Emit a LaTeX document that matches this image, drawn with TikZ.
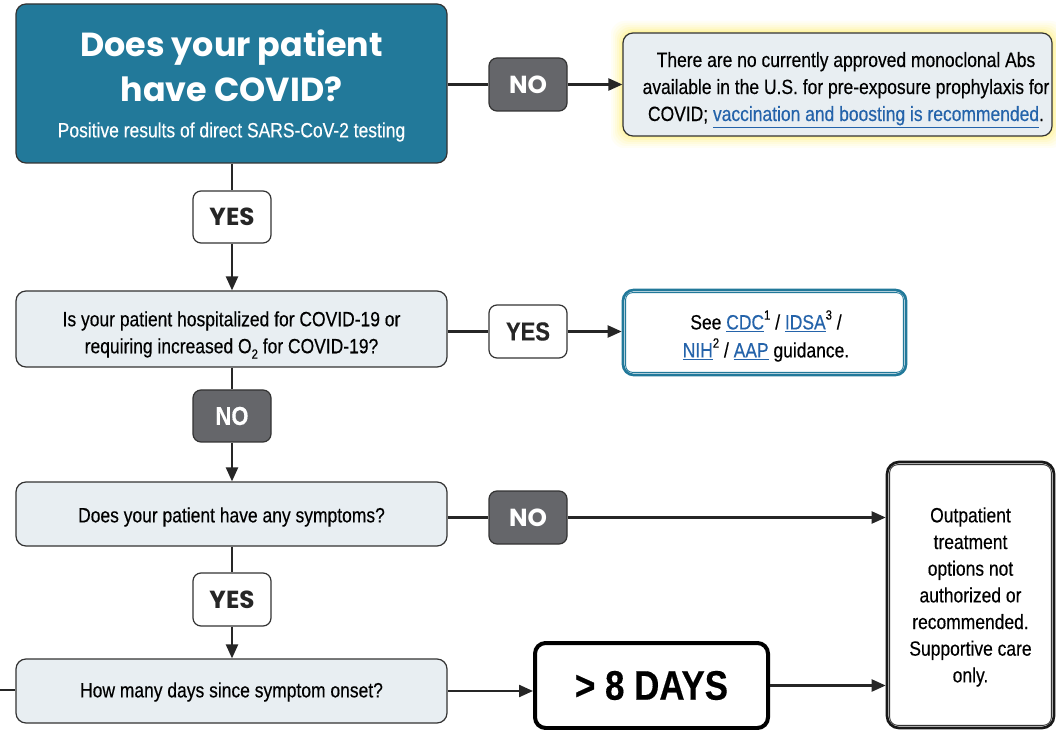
\documentclass[tikz,border=0pt]{standalone}
\usepackage{fontspec}
\setmainfont[FakeStretch=0.845, FakeBold=0.35]{Liberation Sans}
\newfontfamily\popp{Poppins}
\usetikzlibrary{arrows.meta,calc}
\definecolor{tealA}{HTML}{22799A}
\definecolor{greyA}{HTML}{65666A}
\definecolor{lightA}{HTML}{E8EEF2}
\definecolor{edgeA}{HTML}{333333}
\definecolor{linkB}{HTML}{2463AA}
\definecolor{glowY}{HTML}{FFF04A}
\newcommand\lnk[1]{\textcolor{linkB}{\underline{#1}}}
\newcommand\sups[1]{\raisebox{0.9ex}{\fontsize{10}{10}\selectfont #1}}
\tikzset{
  sz/.style 2 args={minimum width=#1*0.75pt, minimum height=#2*0.75pt, inner sep=0pt},
  qbox/.style={draw=edgeA, line width=0.9pt, fill=lightA, rounded corners=7.5pt},
  qtext/.style={align=center, inner sep=0pt, text=black, font=\fontsize{15.5}{20.25}\selectfont},
  yesbox/.style={draw=edgeA, line width=0.9pt, fill=white, rounded corners=6pt, align=center,
     font=\popp\bfseries\fontsize{18.5}{20}\selectfont, text=black!85},
  nobox/.style={draw=edgeA, line width=0.9pt, fill=greyA, rounded corners=6pt, align=center,
     font=\popp\bfseries\fontsize{18.5}{20}\selectfont, text=white},
  yesc/.style={yesbox, font=\bfseries\fontsize{19.5}{22}\selectfont},
  noc/.style={nobox, font=\bfseries\fontsize{19.5}{22}\selectfont},
  conn/.style={line width=1.7pt, draw=black!85},
  arr/.style={conn, -{Triangle[length=10.5pt,width=9pt]}},
}
\begin{document}
\begin{tikzpicture}[x=0.75pt,y=-0.75pt]
\useasboundingbox (0,0) rectangle (1056,730);
\fill[white] (0,0) rectangle (1056,730);

% top question
\node[qbox, fill=tealA, sz={431}{159}] (q1) at (231.5,83.5) {};
\node[text=white, align=center, inner sep=0pt, font=\popp\bfseries\fontsize{25}{34}\selectfont] (q1t) at (231.5,66) {Does your patient\\have COVID?};
\node[qtext, text=white] (q1s) at (231.5,132) {Positive results of direct SARS-CoV-2 testing};

% glow for answer box 1
\foreach \r/\o in {12/0.05,10/0.06,8/0.08,6/0.1,4/0.14,2/0.22}{
  \fill[glowY, opacity=\o, rounded corners=10pt] (623-\r,33-\r) rectangle (1052+\r,136+\r);
}
\node[qbox, sz={429}{103}] (a1) at (837.5,84.5) {};
\node[qtext] (a1t) at (846,90) {There are no currently approved monoclonal Abs\\available in the U.S. for pre-exposure prophylaxis for\\COVID; \lnk{vaccination and boosting is recommended}.};

\node[nobox, sz={78}{53}] (no1) at (528,84.5) {NO};
\node[yesbox, sz={78}{52}] (yes1) at (232,217) {YES};

% question 2
\node[qbox, sz={431}{76}] (q2) at (231.5,329) {};
\node[qtext] (q2t) at (231.5,335) {Is your patient hospitalized for COVID-19 or\\requiring increased O\raisebox{-0.5ex}{\fontsize{10}{10}\selectfont 2} for COVID-19?};
\node[yesc, sz={78}{53}] (yes2) at (528,331.5) {YES};
\node[draw=tealA, line width=2pt, fill=white, rounded corners=8pt, sz={283}{85}] (cdc) at (764.5,332.5) {};
\draw[tealA, line width=0.7pt, rounded corners=5pt] ($(cdc.north west)+(4,4)$) rectangle ($(cdc.south east)+(-4,-4)$);
\node[qtext, font=\fontsize{15.5}{21}\selectfont] (cdct) at (766,336)
  {See \lnk{CDC}\sups{1} / \lnk{IDSA}\sups{3} /\\\lnk{NIH}\sups{2} / \lnk{AAP} guidance.};
\node[noc, sz={78}{52}] (no2) at (232,416) {NO};

% question 3
\node[qbox, sz={431}{64}] (q3) at (231.5,514) {};
\node[qtext] (q3t) at (231.5,517) {Does your patient have any symptoms?};
\node[nobox, sz={78}{53}] (no3) at (528,517.5) {NO};
\node[yesbox, sz={78}{53}] (yes3) at (232,599.5) {YES};

% outpatient box
\node[draw=black!90, line width=2pt, fill=white, rounded corners=9pt, sz={167}{266}] (out) at (970.5,595) {};
\draw[black!80, line width=0.7pt, rounded corners=6pt] ($(out.north west)+(4,4)$) rectangle ($(out.south east)+(-4,-4)$);
\node[qtext, font=\fontsize{15.5}{20}\selectfont] (outt) at (970.5,597)
  {Outpatient\\treatment\\options not\\authorized or\\recommended.\\Supportive care\\only.};

% question 4
\node[qbox, sz={431}{64}] (q4) at (231.5,691) {};
\node[qtext] (q4t) at (231.5,692) {How many days since symptom onset?};
\node[draw=black, line width=3pt, fill=white, rounded corners=8pt, sz={233}{85},
  font=\bfseries\fontsize{31}{34}\selectfont] (days) at (651.5,685.5) {> 8 DAYS};
\coordinate (lft) at (0,690);

% connectors
\draw[conn] (no1.west -| q1.east) -- (no1.west);
\draw[arr] (no1.east) -- (a1.west);
\draw[conn] (q1.south -| yes1) -- (yes1.north);
\draw[arr] (yes1.south) -- (yes1.south |- q2.north);
\draw[conn] (yes2.west -| q2.east) -- (yes2.west);
\draw[arr] (yes2.east) -- (yes2.east -| cdc.west);
\draw[conn] (q2.south -| no2) -- (no2.north);
\draw[arr] (no2.south) -- (no2.south |- q3.north);
\draw[conn] (no3.west -| q3.east) -- (no3.west);
\draw[arr] (no3.east) -- (no3.east -| out.west);
\draw[conn] (q3.south -| yes3) -- (yes3.north);
\draw[arr] (yes3.south) -- (yes3.south |- q4.north);
\draw[conn] (lft) -- (lft -| q4.west);
\draw[arr] (q4.east) -- (q4.east -| days.west);
\draw[arr] (days.east) -- (days.east -| out.west);
\end{tikzpicture}
\end{document}
